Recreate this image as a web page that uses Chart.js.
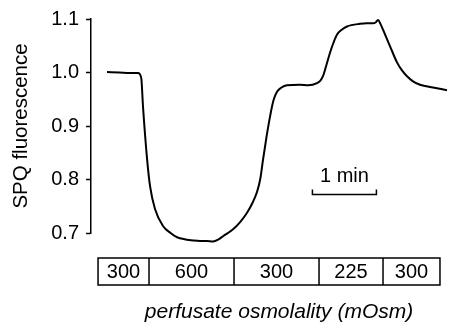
<!DOCTYPE html>
<html>
<head>
<meta charset="utf-8">
<script src="https://cdn.jsdelivr.net/npm/chart.js@4/dist/chart.umd.min.js"></script>
<style>
  html, body { margin: 0; padding: 0; background: #fff; }
  #wrap { width: 457px; height: 329px; }
</style>
</head>
<body>
<div id="wrap"><canvas id="chart" width="457" height="329"></canvas></div>
<script>
// time in seconds (1 min bar = 60 s)
const TIME_S = [
  8.4, 20, 30, 37.5, 40.5, 42.2, 45.9, 48.8, 53.4, 60.9,
  68, 74.1, 82, 89.1, 95.6, 102, 107.8, 113, 117.2, 126.6,
  133, 139.7, 145, 149.1, 152, 154.7, 158, 161.3, 164.5, 167.8,
  172, 177.2, 189.4, 197, 205.3, 208.5, 210.9, 214, 217.5, 221,
  224.1, 228.5, 233.4, 245.6, 252, 257.8, 260.5, 262.5, 265, 267.2,
  273.8, 280.3, 285, 289.7, 295, 301.9, 314.1, 327.2
]
const SPQ = [
  1.001, 1.000, 0.999, 0.999, 0.990, 0.935, 0.840, 0.787, 0.745, 0.713,
  0.700, 0.692, 0.688, 0.686, 0.685, 0.685, 0.684, 0.688, 0.694, 0.707,
  0.720, 0.738, 0.757, 0.777, 0.800, 0.837, 0.880, 0.918, 0.948, 0.964,
  0.972, 0.976, 0.977, 0.976, 0.980, 0.985, 0.993, 1.013, 1.037, 1.057,
  1.071, 1.080, 1.086, 1.091, 1.092, 1.092, 1.094, 1.098, 1.090, 1.080,
  1.049, 1.019, 1.004, 0.993, 0.984, 0.977, 0.972, 0.967
]

// perfusion periods (s) and their osmolality
const PERIOD_EDGES = [0, 47.8, 127.5, 207.2, 267.2, 320.6]
const OSMOLALITY = ['300', '600', '300', '225', '300']
const X_LABEL = 'perfusate osmolality (mOsm)'

// 1 min scale bar
const SCALE_BAR_START = 201
const SCALE_BAR_END = 261
const SCALE_BAR_LEVEL = 0.772

const FONT = "'Liberation Sans', Arial, sans-serif"

const osmolalityBox = {
  id: 'osmolalityBox',
  afterDraw (chart) {
    const { ctx, chartArea } = chart
    const x = chart.scales.x
    const y = chart.scales.y
    const top = chartArea.bottom + 25
    const height = 27

    ctx.save()
    ctx.strokeStyle = '#000'
    ctx.lineWidth = 1.5
    const left = x.getPixelForValue(PERIOD_EDGES[0])
    const right = x.getPixelForValue(PERIOD_EDGES[PERIOD_EDGES.length - 1])
    ctx.strokeRect(left, top, right - left, height)
    for (let i = 1; i < PERIOD_EDGES.length - 1; i++) {
      const px = x.getPixelForValue(PERIOD_EDGES[i])
      ctx.beginPath()
      ctx.moveTo(px, top)
      ctx.lineTo(px, top + height)
      ctx.stroke()
    }
    ctx.fillStyle = '#000'
    ctx.font = `20px ${FONT}`
    ctx.textAlign = 'center'
    ctx.textBaseline = 'middle'
    OSMOLALITY.forEach((label, i) => {
      const cx = (x.getPixelForValue(PERIOD_EDGES[i]) + x.getPixelForValue(PERIOD_EDGES[i + 1])) / 2
      ctx.fillText(label, cx, top + height / 2 + 1)
    })

    // axis caption under the box
    ctx.font = `italic 21px ${FONT}`
    ctx.fillText(X_LABEL, (left + right) / 2 + 10, top + height + 27)

    // scale bar
    const x0 = x.getPixelForValue(SCALE_BAR_START)
    const x1 = x.getPixelForValue(SCALE_BAR_END)
    const by = y.getPixelForValue(SCALE_BAR_LEVEL)
    ctx.lineWidth = 1.5
    ctx.beginPath()
    ctx.moveTo(x0, by - 5)
    ctx.lineTo(x0, by)
    ctx.lineTo(x1, by)
    ctx.lineTo(x1, by - 5)
    ctx.stroke()
    ctx.font = `20px ${FONT}`
    ctx.textBaseline = 'alphabetic'
    ctx.fillText('1 min', (x0 + x1) / 2, by - 12)
    ctx.restore()
  }
}

new Chart(document.getElementById('chart'), {
  type: 'line',
  data: {
    datasets: [
      {
        data: TIME_S.map((t, i) => ({ x: t, y: SPQ[i] })),
        borderColor: '#000',
        borderWidth: 2,
        pointRadius: 0,
        cubicInterpolationMode: 'monotone',
        clip: false,
        fill: false
      }
    ]
  },
  options: {
    responsive: false,
    animation: false,
    layout: {
      padding: { top: 19, right: 7, left: 0, bottom: 96 }
    },
    plugins: {
      legend: { display: false },
      tooltip: { enabled: false }
    },
    scales: {
      x: {
        type: 'linear',
        display: false,
        min: -6.6,
        max: 330
      },
      y: {
        min: 0.7,
        max: 1.1,
        afterFit (scale) { scale.width = 91 },
        grid: {
          drawOnChartArea: false,
          drawTicks: true,
          tickLength: 5,
          tickWidth: 1.5,
          color: '#000'
        },
        border: { display: true, color: '#000', width: 1.5 },
        ticks: {
          stepSize: 0.1,
          padding: 7,
          color: '#000',
          font: { family: FONT, size: 20 },
          callback: (value) => value.toFixed(1)
        },
        title: {
          display: true,
          text: 'SPQ fluorescence',
          color: '#000',
          font: { family: FONT, size: 20.5 },
          padding: { top: 9, bottom: 0 }
        }
      }
    }
  },
  plugins: [osmolalityBox]
})
</script>
</body>
</html>
